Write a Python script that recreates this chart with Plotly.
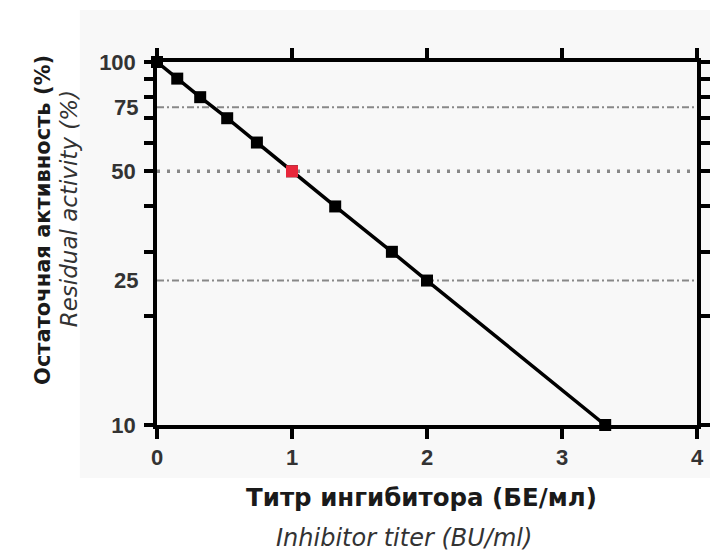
import plotly.graph_objects as go

# ---- data ----
titer = [0, 0.15, 0.32, 0.52, 0.74, 1.0, 1.32, 1.74, 2.0, 3.32]
activity = [100, 90, 80, 70, 60, 50, 40, 30, 25, 10]
highlight_titer = [1.0]
highlight_activity = [50]

ref_levels = [75, 50, 25]
ref_dash = ["7px,3px,2px,3px", "3px,7px", "7px,3px,2px,3px"]
ref_width = [2, 3.5, 2]

x_range = [0, 4]
x_ticks = [0, 1, 2, 3, 4]
y_ticks = [10, 20, 30, 40, 50, 60, 70, 80, 90, 100]
y_ticktext = ["10", "", "", "", "50", "", "", "", "", "100"]
y_extra_ticks = [25, 75]

tick_font = dict(family="Liberation Sans, Arial, sans-serif", size=22, color="#333333", weight="bold")

fig = go.Figure()

# reference lines
for lvl, dash, w in zip(ref_levels, ref_dash, ref_width):
    fig.add_trace(go.Scatter(x=x_range, y=[lvl, lvl], mode="lines",
                             line=dict(color="#888888", width=w, dash=dash),
                             hoverinfo="skip", showlegend=False))

# main data
fig.add_trace(go.Scatter(x=titer, y=activity, mode="lines+markers",
                         line=dict(color="black", width=3.5),
                         marker=dict(symbol="square", size=12, color="black"),
                         cliponaxis=False, showlegend=False))
fig.add_trace(go.Scatter(x=highlight_titer, y=highlight_activity, mode="markers",
                         marker=dict(symbol="square", size=12, color="#e8273b"),
                         cliponaxis=False, showlegend=False))

axis_common = dict(showline=True, linecolor="black", linewidth=3.5, mirror="allticks",
                   ticks="outside", tickcolor="black", tickwidth=3.5, showgrid=False,
                   zeroline=False, tickfont=tick_font, automargin=False)

fig.update_layout(
    width=710, height=553,
    margin=dict(l=157, r=13, t=62, b=128, autoexpand=False),
    paper_bgcolor="white", plot_bgcolor="rgba(0,0,0,0)",
    xaxis=dict(range=x_range, tickvals=x_ticks, ticklen=10, **axis_common),
    yaxis=dict(type="log", range=[1, 2], tickvals=y_ticks, ticktext=y_ticktext,
               ticklen=9, ticklabelstandoff=4, **axis_common),
    yaxis2=dict(type="log", range=[1, 2], overlaying="y", side="left",
                tickvals=y_extra_ticks, ticks="outside", ticklen=9, tickwidth=3,
                tickcolor="rgba(0,0,0,0)", showline=False, showgrid=False,
                zeroline=False, tickfont=tick_font, ticklabelstandoff=4,
                automargin=False),
    shapes=[dict(type="rect", xref="paper", yref="paper", x0=-0.143, x1=1.03,
                 y0=-0.146, y1=1.143, fillcolor="#f8f8f8", line=dict(width=0),
                 layer="below")],
)

# dummy trace to activate yaxis2
fig.add_trace(go.Scatter(x=[None], y=[None], yaxis="y2", showlegend=False, hoverinfo="skip"))

title_font = "DejaVu Sans, sans-serif"
fig.add_annotation(text="Титр ингибитора (БЕ/мл)", xref="paper", yref="paper",
                   x=0.49, y=-0.201, showarrow=False, xanchor="center", yanchor="middle",
                   font=dict(family=title_font, size=24.5, color="#1a1a1a", weight="bold"))
fig.add_annotation(text="<i>Inhibitor titer (BU/ml)</i>", xref="paper", yref="paper",
                   x=0.458, y=-0.31, showarrow=False, xanchor="center", yanchor="middle",
                   font=dict(family=title_font, size=24, color="#333333", weight=200))
fig.add_annotation(text="Остаточная активность (%)", xref="paper", yref="paper",
                   x=-0.211, y=0.565, showarrow=False, textangle=-90,
                   xanchor="center", yanchor="middle",
                   font=dict(family=title_font, size=21, color="#1a1a1a", weight="bold"))
fig.add_annotation(text="<i>Residual activity (%)</i>", xref="paper", yref="paper",
                   x=-0.163, y=0.597, showarrow=False, textangle=-90,
                   xanchor="center", yanchor="middle",
                   font=dict(family=title_font, size=23, color="#333333", weight=200))

# remove the default page margin so the figure sits at the window's top-left corner
fig.write_html("out.html", config={"displayModeBar": False},
               post_script="document.body.style.margin='0';")
